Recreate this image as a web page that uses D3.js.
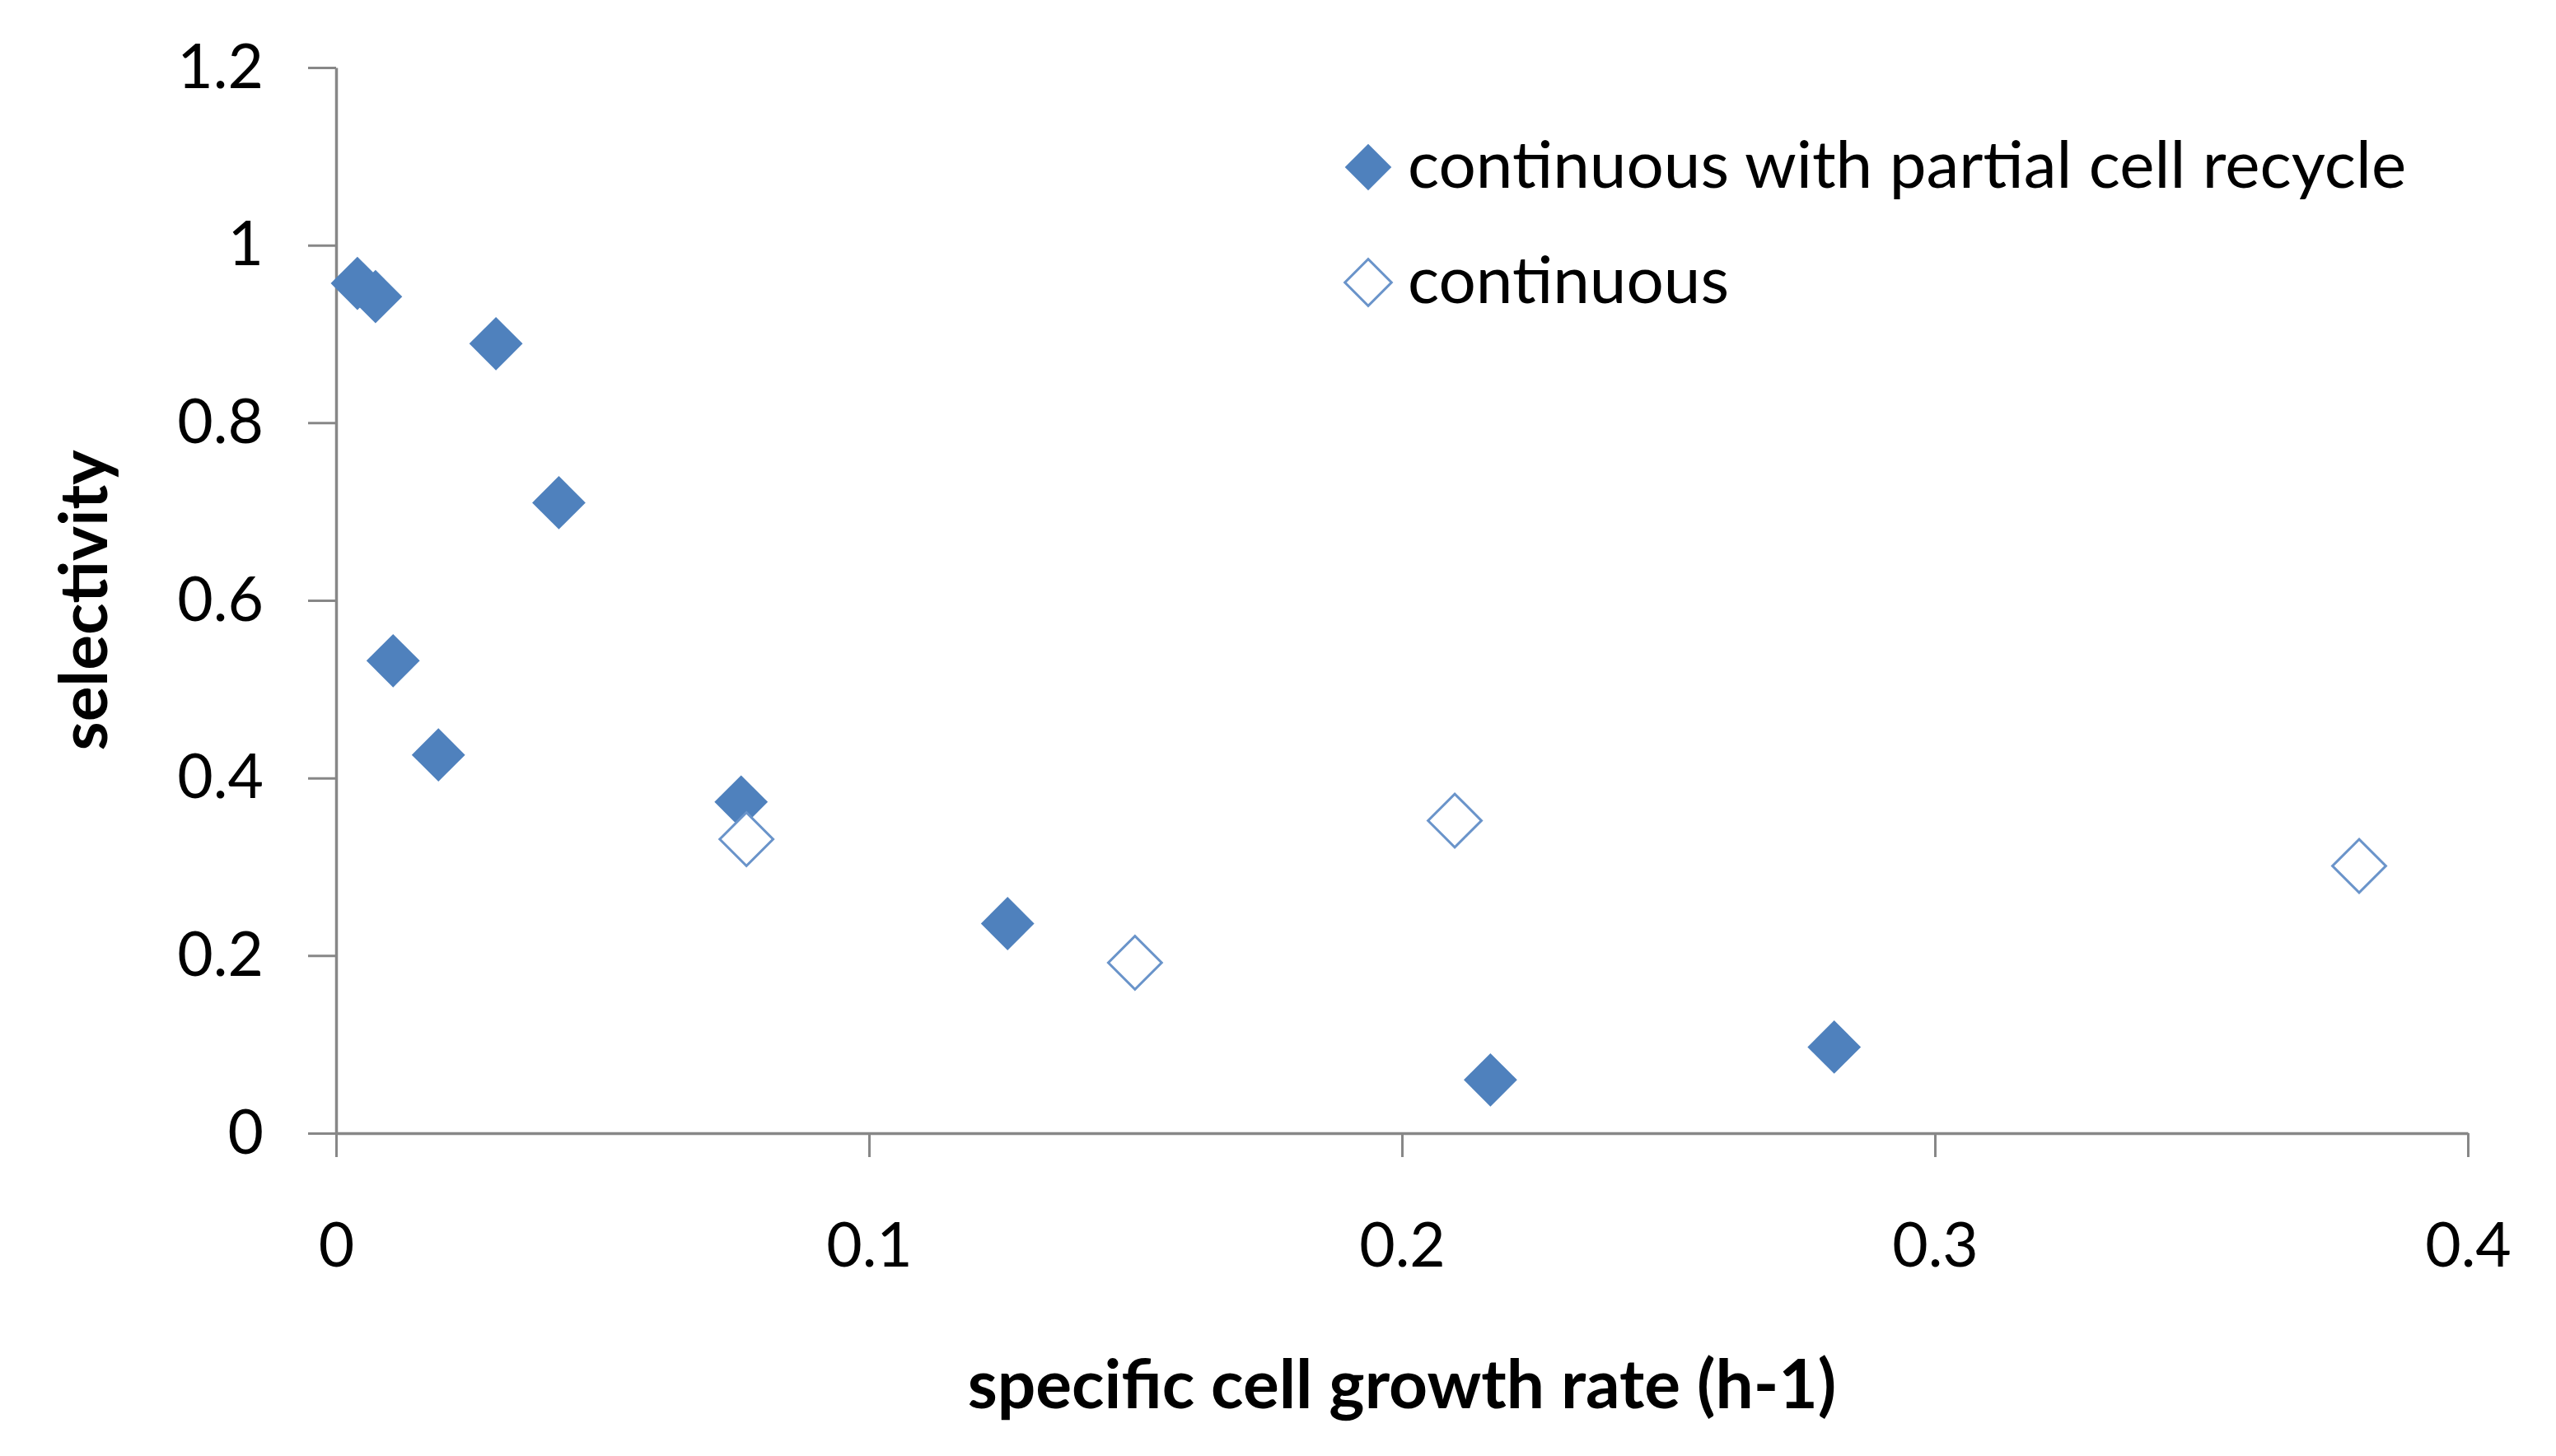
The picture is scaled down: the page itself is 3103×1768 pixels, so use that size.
<!DOCTYPE html>
<html>
<head>
<meta charset="utf-8">
<script src="https://cdn.jsdelivr.net/npm/d3@7"></script>
<style>
    html, body { margin: 0; padding: 0; background: #ffffff; }
    svg { display: block; }
    .tick text { font-family: Lato, 'Open Sans', sans-serif; }
</style>
</head>
<body>
<script>
// Series: continuous with partial cell recycle (filled)
const recycleX = [0.0040, 0.0074, 0.0300, 0.0418, 0.0107, 0.0192, 0.0760, 0.1260, 0.2166, 0.2811];
const recycleY = [0.957, 0.942, 0.889, 0.710, 0.532, 0.426, 0.373, 0.236, 0.060, 0.097];

// Series: continuous (open)
const continuousX = [0.0770, 0.1499, 0.2099, 0.3796];
const continuousY = [0.331, 0.192, 0.352, 0.301];

const seriesNames = ['continuous with partial cell recycle', 'continuous'];
const xTicks = [0, 0.1, 0.2, 0.3, 0.4];
const yTicks = [0, 0.2, 0.4, 0.6, 0.8, 1, 1.2];
const xTitle = 'specific cell growth rate (h-1)';
const yTitle = 'selectivity';

const width = 3103, height = 1768;
const blue = '#4f81bd';
const axisGray = '#878787';
const fontFamily = "Lato, 'Open Sans', sans-serif";

const svg = d3.select('body').append('svg')
    .attr('width', width).attr('height', height)
    .attr('viewBox', `0 0 ${width} ${height}`);

const x = d3.scaleLinear().domain([0, 0.4]).range([408, 2996]);
const y = d3.scaleLinear().domain([0, 1.2]).range([1376, 82]);

// Axes
const xAxis = svg.append('g')
    .attr('transform', `translate(0,${y(0)})`)
    .call(d3.axisBottom(x).tickValues(xTicks).tickFormat(d3.format('~g'))
        .tickSizeInner(29).tickSizeOuter(0).tickPadding(80));

const yAxis = svg.append('g')
    .attr('transform', `translate(${x(0)},0)`)
    .call(d3.axisLeft(y).tickValues(yTicks).tickFormat(d3.format('~g'))
        .tickSizeInner(34).tickSizeOuter(0).tickPadding(54));

[xAxis, yAxis].forEach(g => {
    g.select('.domain').attr('stroke', axisGray).attr('stroke-width', 3.5);
    g.selectAll('.tick line').attr('stroke', axisGray).attr('stroke-width', 3);
    g.selectAll('.tick text').attr('fill', '#000').style('font-size', '75px');
});

// Markers: excel style diamond = square turned 45deg
const diamond = d3.symbol().type(d3.symbolSquare).size(2100);

const recycle = recycleX.map((v, i) => ({ x: v, y: recycleY[i] }));
const continuous = continuousX.map((v, i) => ({ x: v, y: continuousY[i] }));

svg.append('g').selectAll('path.recycle').data(recycle).enter()
    .append('path').attr('class', 'recycle')
    .attr('d', diamond)
    .attr('transform', d => `translate(${x(d.x)},${y(d.y)}) rotate(45)`)
    .attr('fill', blue);

svg.append('g').selectAll('path.continuous').data(continuous).enter()
    .append('path').attr('class', 'continuous')
    .attr('d', diamond)
    .attr('transform', d => `translate(${x(d.x)},${y(d.y)}) rotate(45)`)
    .attr('fill', '#fff')
    .attr('stroke', '#6a94ca').attr('stroke-width', 3);

// Legend
const legend = svg.append('g').attr('transform', 'translate(1661,203)');
const legendItems = legend.selectAll('g.item').data(seriesNames).enter()
    .append('g').attr('class', 'item')
    .attr('transform', (d, i) => `translate(0,${i * 140})`);

legendItems.append('path')
    .attr('d', d3.symbol().type(d3.symbolSquare).size(1600))
    .attr('transform', 'rotate(45)')
    .attr('fill', (d, i) => i === 0 ? blue : '#fff')
    .attr('stroke', (d, i) => i === 0 ? 'none' : '#6a94ca')
    .attr('stroke-width', 3);

legendItems.append('text')
    .attr('x', 48).attr('y', 25)
    .style('font-family', fontFamily).style('font-size', '80px')
    .attr('fill', '#000')
    .text(d => d);

// Axis titles
svg.append('text')
    .attr('x', (x(0) + x(0.4)) / 2).attr('y', 1710)
    .attr('text-anchor', 'middle')
    .style('font-family', fontFamily).style('font-size', '82px').style('font-weight', 'bold')
    .text(xTitle);

svg.append('text')
    .attr('transform', `translate(130,${(y(0) + y(1.2)) / 2}) rotate(-90)`)
    .attr('text-anchor', 'middle')
    .style('font-family', fontFamily).style('font-size', '80px').style('font-weight', 'bold')
    .text(yTitle);
</script>
</body>
</html>
